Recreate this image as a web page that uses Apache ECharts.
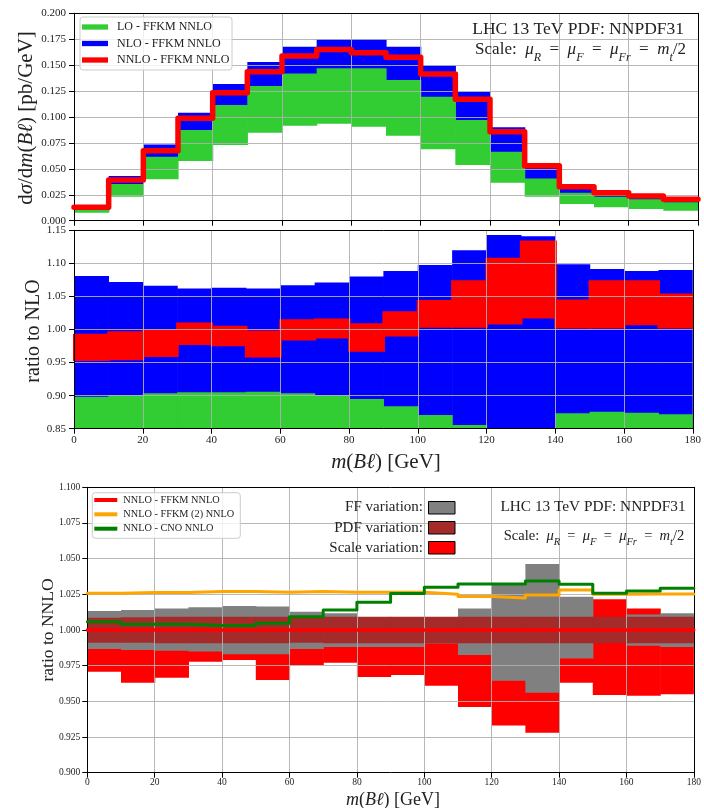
<!DOCTYPE html>
<html><head><meta charset="utf-8">
<script src="https://cdn.jsdelivr.net/npm/echarts@6/dist/echarts.min.js"></script>
<style>html,body{margin:0;padding:0;background:#fff}#c{width:704px;height:808px}</style>
</head><body><div id="c"></div>
<script>
// ---------- DATA ----------
const binEdges = [0,10,20,30,40,50,60,70,80,90,100,110,120,130,140,150,160,170];
const binWidth = 10;
const xTicks = [0,20,40,60,80,100,120,140,160,180];

// Top panel: dsigma/dm(Bl) [pb/GeV]
const loLo  = [0.0077,0.0231,0.0399,0.0575,0.0730,0.0849,0.0916,0.0936,0.0907,0.0820,0.0690,0.0537,0.0367,0.0231,0.0161,0.0129,0.0113,0.0096];
const loHi  = [0.0105,0.0354,0.0617,0.0874,0.1116,0.1300,0.1420,0.1470,0.1470,0.1357,0.1196,0.0970,0.0666,0.0408,0.0270,0.0231,0.0206,0.0177];
const nloLo = [0.0095,0.0330,0.0580,0.0830,0.1060,0.1240,0.1360,0.1410,0.1410,0.1300,0.1140,0.0920,0.0630,0.0380,0.0250,0.0210,0.0190,0.0160];
const nloHi = [0.0150,0.0430,0.0735,0.1040,0.1318,0.1530,0.1678,0.1752,0.1752,0.1678,0.1500,0.1244,0.0900,0.0547,0.0344,0.0280,0.0248,0.0215];
const nnlo  = [0.0129,0.0392,0.0675,0.0987,0.1235,0.1437,0.1588,0.1650,0.1620,0.1575,0.1415,0.1170,0.0858,0.0530,0.0328,0.0270,0.0238,0.0206];

// Middle panel: ratio to NLO
const rLoLo   = [0.780,0.780,0.780,0.780,0.780,0.780,0.780,0.780,0.780,0.780,0.780,0.780,0.780,0.780,0.780,0.780,0.780,0.780];
const rLoHi   = [0.8985,0.9010,0.9035,0.9050,0.9050,0.9060,0.9035,0.9010,0.8950,0.8840,0.8707,0.8556,0.8450,0.8450,0.8733,0.8757,0.8742,0.8718];
const rNloLo  = [0.830,0.832,0.834,0.835,0.835,0.835,0.834,0.832,0.828,0.822,0.815,0.805,0.795,0.795,0.815,0.818,0.817,0.816];
const rNloHi  = [1.081,1.072,1.066,1.062,1.063,1.062,1.067,1.071,1.080,1.0885,1.0975,1.120,1.143,1.141,1.0986,1.0915,1.0885,1.090];
const rNnloLo = [0.954,0.955,0.960,0.978,0.976,0.959,0.985,0.988,0.968,0.991,1.004,1.004,1.009,1.018,1.003,1.003,1.008,1.003];
const rNnloHi = [0.992,0.996,0.998,1.009,1.004,0.997,1.014,1.015,1.008,1.026,1.043,1.073,1.107,1.133,1.044,1.073,1.073,1.053];

// Bottom panel: ratio to NNLO
const scaleLo = [0.9708,0.9630,0.9666,0.9778,0.9790,0.9650,0.9755,0.9770,0.9670,0.9685,0.9610,0.9460,0.9330,0.9280,0.9630,0.9545,0.9540,0.9550];
const scaleHi = [1.0050,1.0050,1.0050,1.0050,1.0050,1.0050,1.0050,1.0050,1.0060,1.0060,1.0060,1.0100,1.0200,1.0200,1.0200,1.0216,1.0151,1.0080];
const ffLo    = [0.9867,0.9860,0.9855,0.9850,0.9830,0.9830,0.9867,0.9880,0.9880,0.9880,0.9905,0.9825,0.9645,0.9560,0.9800,0.9920,0.9890,0.9880];
const ffHi    = [1.0133,1.0140,1.0150,1.0160,1.0168,1.0164,1.0128,1.0117,1.0080,1.0080,1.0080,1.0151,1.0315,1.0463,1.0233,1.0070,1.0109,1.0117];
const pdfLo   = [0.9911,0.9910,0.9908,0.9908,0.9908,0.9908,0.9910,0.9908,0.9907,0.9907,0.9907,0.9907,0.9907,0.9907,0.9907,0.9907,0.9907,0.9907];
const pdfHi   = [1.0086,1.0090,1.0093,1.0093,1.0093,1.0093,1.0088,1.0092,1.0093,1.0093,1.0093,1.0093,1.0093,1.0093,1.0093,1.0093,1.0093,1.0093];
const nnloCentral = [1,1,1,1,1,1,1,1,1,1,1,1,1,1,1,1,1,1];
const ffkm2   = [1.0257,1.0262,1.0262,1.0269,1.0269,1.0264,1.0269,1.0264,1.0264,1.0265,1.0251,1.0235,1.0224,1.0245,1.0280,1.0250,1.0252,1.0252];
const cno     = [1.0058,1.0040,1.0040,1.0031,1.0031,1.0047,1.0093,1.0140,1.0194,1.0255,1.0300,1.0322,1.0322,1.0343,1.0320,1.0257,1.0274,1.0293];

// ---------- HELPERS ----------
const SERIF = "'Liberation Serif','Times New Roman',serif";
const C = {lo:'#32cd32', nlo:'#0000ff', nnlo:'#ff0000', orange:'#ffa500', green:'#008000', gray:'#808080', brown:'#a52a2a', grid:'#b0b0b0'};

function bandData(lo, hi){ return binEdges.map((x,i)=>[x, x+binWidth, lo[i], hi[i]]); }
function stepData(v){ const d = binEdges.map((x,i)=>[x, v[i]]); d.push([binEdges[binEdges.length-1]+binWidth, v[v.length-1]]); return d; }
function renderBand(params, api){
  const x0=api.value(0), x1=api.value(1), lo=api.value(2), hi=api.value(3);
  const p0=api.coord([x0,hi]), p1=api.coord([x1,lo]);
  const cs=params.coordSys;
  const r=echarts.graphic.clipRectByRect({x:p0[0], y:p0[1], width:p1[0]-p0[0]+0.6, height:p1[1]-p0[1]},{x:cs.x,y:cs.y,width:cs.width,height:cs.height});
  if(!r) return null;
  return {type:'rect', shape:r, style:api.style()};
}
function band(name, lo, hi, color, ax, extra){
  return Object.assign({type:'custom', name, renderItem:renderBand, data:bandData(lo,hi), xAxisIndex:ax, yAxisIndex:ax,
    encode:{x:[0,1], y:[2,3]}, itemStyle:{color}, z:1, silent:true}, extra||{});
}
function step(name, v, color, w, ax){
  return {type:'line', name, step:'end', data:stepData(v), xAxisIndex:ax, yAxisIndex:ax, showSymbol:false, symbol:'none',
    lineStyle:{color, width:w, join:'round', cap:'round'}, itemStyle:{color}, z:5, silent:true, clip:true};
}
function xAxisMain(gi, showLabels, margin, fs){
  return {type:'value', gridIndex:gi, min:0, max:180, interval:20, position:'bottom', z:3,
    axisLine:{show:true, onZero:false, lineStyle:{color:'#000', width:1}},
    axisTick:{show:true, length:5, lineStyle:{color:'#000'}},
    axisLabel:{show:showLabels, margin, fontFamily:SERIF, fontSize:fs, color:'#222'},
    splitLine:{show:true, lineStyle:{color:C.grid, width:0.9}}};
}
function yAxisMain(gi, min, max, interval, dec, margin, fs){
  return {type:'value', gridIndex:gi, min, max, interval, position:'left', z:3,
    axisLine:{show:true, onZero:false, lineStyle:{color:'#000', width:1}},
    axisTick:{show:true, length:5, lineStyle:{color:'#000'}},
    axisLabel:{margin, fontFamily:SERIF, fontSize:fs, color:'#222', formatter:v=>v.toFixed(dec)},
    splitLine:{show:true, lineStyle:{color:C.grid, width:0.9}}};
}
function frameX(gi){ return {type:'value', gridIndex:gi, min:0, max:180, position:'top', z:3, axisLine:{show:true, onZero:false, lineStyle:{color:'#000'}}, axisTick:{show:false}, axisLabel:{show:false}, splitLine:{show:false}}; }
function frameY(gi,min,max){ return {type:'value', gridIndex:gi, min, max, position:'right', z:3, axisLine:{show:true, onZero:false, lineStyle:{color:'#000'}}, axisTick:{show:false}, axisLabel:{show:false}, splitLine:{show:false}}; }

function formula(fs, sfs, lh){
  const n={fontFamily:SERIF, fontSize:fs, lineHeight:lh, verticalAlign:'middle', fill:'#222'};
  const i=Object.assign({}, n, {fontStyle:'italic'});
  const s={fontFamily:SERIF, fontSize:sfs, lineHeight:sfs, fontStyle:'italic', verticalAlign:'bottom', fill:'#222'};
  return {text:'{n|Scale:  }{i|μ}{s|R}{n|  =  }{i|μ}{s|F}{n|  =  }{i|μ}{s|Fr}{n|  =  }{i|m}{s|t}{n|/2}', rich:{n,i,s}};
}
function massLabel(fs){
  const r={fontFamily:SERIF, fontSize:fs, fill:'#222'};
  const i=Object.assign({}, r, {fontStyle:'italic'});
  return {text:'{i|m}{r|(}{i|Bℓ}{r|) [GeV]}', rich:{r,i}};
}
function legendBox(x,y,w,h,entries,lineLen,lw,fs,dy,tx){
  const els=[{type:'rect', shape:{x,y,width:w,height:h,r:3}, style:{fill:'rgba(255,255,255,0.8)', stroke:'#cccccc', lineWidth:1}, z:100}];
  entries.forEach((e,k)=>{
    const yy=y+dy[k];
    els.push({type:'line', shape:{x1:x+2, y1:yy, x2:x+2+lineLen, y2:yy}, style:{stroke:e.color, lineWidth:lw}, z:101});
    els.push({type:'text', x:tx, y:yy, style:{text:e.name, fontFamily:SERIF, fontSize:fs, fill:'#222', align:'left', verticalAlign:'middle'}, z:101});
  });
  return els;
}

// ---------- CHART ----------
const chart = echarts.init(document.getElementById('c'), null, {renderer:'canvas'});
const topYLabel = (()=>{ const r={fontFamily:SERIF,fontSize:21,fill:'#222'}; const i=Object.assign({},r,{fontStyle:'italic'});
  return {text:'{r|d}{i|σ}{r|/d}{i|m}{r|(}{i|Bℓ}{r|) [pb/GeV]}', rich:{r,i}}; })();

const graphics = [
  {type:'text', x:26, y:118, rotation:Math.PI/2, style:Object.assign({align:'center', verticalAlign:'middle'}, topYLabel), z:50},
  {type:'text', x:34, y:331, rotation:Math.PI/2, style:{text:'ratio to NLO', fontFamily:SERIF, fontSize:20, fill:'#222', align:'center', verticalAlign:'middle'}, z:50},
  {type:'text', x:386, y:462, style:Object.assign({align:'center', verticalAlign:'middle'}, massLabel(21)), z:50},
  {type:'text', x:48, y:630, rotation:Math.PI/2, style:{text:'ratio to NNLO', fontFamily:SERIF, fontSize:17.5, fill:'#222', align:'center', verticalAlign:'middle'}, z:50},
  {type:'text', x:393, y:800, style:Object.assign({align:'center', verticalAlign:'middle'}, massLabel(18)), z:50},
  {type:'text', x:684, y:29, style:{text:'LHC 13 TeV PDF: NNPDF31', fontFamily:SERIF, fontSize:17.5, fill:'#222', align:'right', verticalAlign:'middle'}, z:50},
  {type:'text', x:686, y:50, style:Object.assign({align:'right', verticalAlign:'middle'}, formula(17, 12, 27)), z:50},
  {type:'text', x:593, y:507, style:{text:'LHC 13 TeV PDF: NNPDF31', fontFamily:SERIF, fontSize:15.3, fill:'#222', align:'center', verticalAlign:'middle'}, z:50},
  {type:'text', x:594, y:536, style:Object.assign({align:'center', verticalAlign:'middle'}, formula(14.5, 10.5, 23)), z:50},
  {type:'text', x:423, y:507.5, style:{text:'FF variation:', fontFamily:SERIF, fontSize:15, fill:'#222', align:'right', verticalAlign:'middle'}, z:50},
  {type:'text', x:423, y:528, style:{text:'PDF variation:', fontFamily:SERIF, fontSize:15, fill:'#222', align:'right', verticalAlign:'middle'}, z:50},
  {type:'text', x:423, y:548, style:{text:'Scale variation:', fontFamily:SERIF, fontSize:15, fill:'#222', align:'right', verticalAlign:'middle'}, z:50},
  {type:'rect', shape:{x:428.5, y:501.5, width:26.5, height:12.5}, style:{fill:C.gray, stroke:'#000', lineWidth:1}, z:50},
  {type:'rect', shape:{x:428.5, y:521.5, width:26.5, height:12.5}, style:{fill:C.brown, stroke:'#000', lineWidth:1}, z:50},
  {type:'rect', shape:{x:428.5, y:541.5, width:26.5, height:12.5}, style:{fill:C.nnlo, stroke:'#000', lineWidth:1}, z:50},
].concat(
  legendBox(80,17,152,53,[{name:'LO - FFKM NNLO',color:C.lo},{name:'NLO - FFKM NNLO',color:C.nlo},{name:'NNLO - FFKM NNLO',color:C.nnlo}],26,5.3,12,[10,26.5,43],117),
  legendBox(92.3,492.7,148,45.6,[{name:'NNLO - FFKM NNLO',color:C.nnlo},{name:'NNLO - FFKM (2) NNLO',color:C.orange},{name:'NNLO - CNO NNLO',color:C.green}],23,4,10.3,[7.3,21.6,36],123.3)
);

chart.setOption({
  animation:false,
  backgroundColor:'#fff',
  grid:[
    {left:74, top:13.3, width:624, height:207.4},
    {left:74, top:230.3, width:624, height:198.4},
    {left:87.3, top:487.3, width:612, height:285.4}
  ],
  xAxis:[ xAxisMain(0,false,6,11), frameX(0), xAxisMain(1,true,6,11), frameX(1), xAxisMain(2,true,5,9.5), frameX(2) ],
  yAxis:[ yAxisMain(0,0,0.2,0.025,3,8,11), frameY(0,0,0.2), yAxisMain(1,0.85,1.15,0.05,2,8,11), frameY(1,0.85,1.15), yAxisMain(2,0.9,1.1,0.025,3,7,9.5), frameY(2,0.9,1.1) ],
  series:[
    band('NLO - FFKM NNLO', nloLo, nloHi, C.nlo, 0),
    band('LO - FFKM NNLO', loLo, loHi, C.lo, 0),
    step('NNLO - FFKM NNLO', nnlo, C.nnlo, 5.5, 0),
    band('NLO ratio', rNloLo, rNloHi, C.nlo, 2),
    band('LO ratio', rLoLo, rLoHi, C.lo, 2),
    band('NNLO ratio', rNnloLo, rNnloHi, C.nnlo, 2, {itemStyle:{color:C.nnlo, borderColor:C.nnlo, borderWidth:2}}),
    band('Scale variation', scaleLo, scaleHi, C.nnlo, 4),
    band('FF variation', ffLo, ffHi, C.gray, 4),
    band('PDF variation', pdfLo, pdfHi, C.brown, 4),
    step('NNLO - FFKM NNLO (ratio)', nnloCentral, C.nnlo, 3.3, 4),
    step('NNLO - FFKM (2) NNLO', ffkm2, C.orange, 3, 4),
    step('NNLO - CNO NNLO', cno, C.green, 3, 4)
  ],
  graphic:{elements:graphics}
});
</script></body></html>
